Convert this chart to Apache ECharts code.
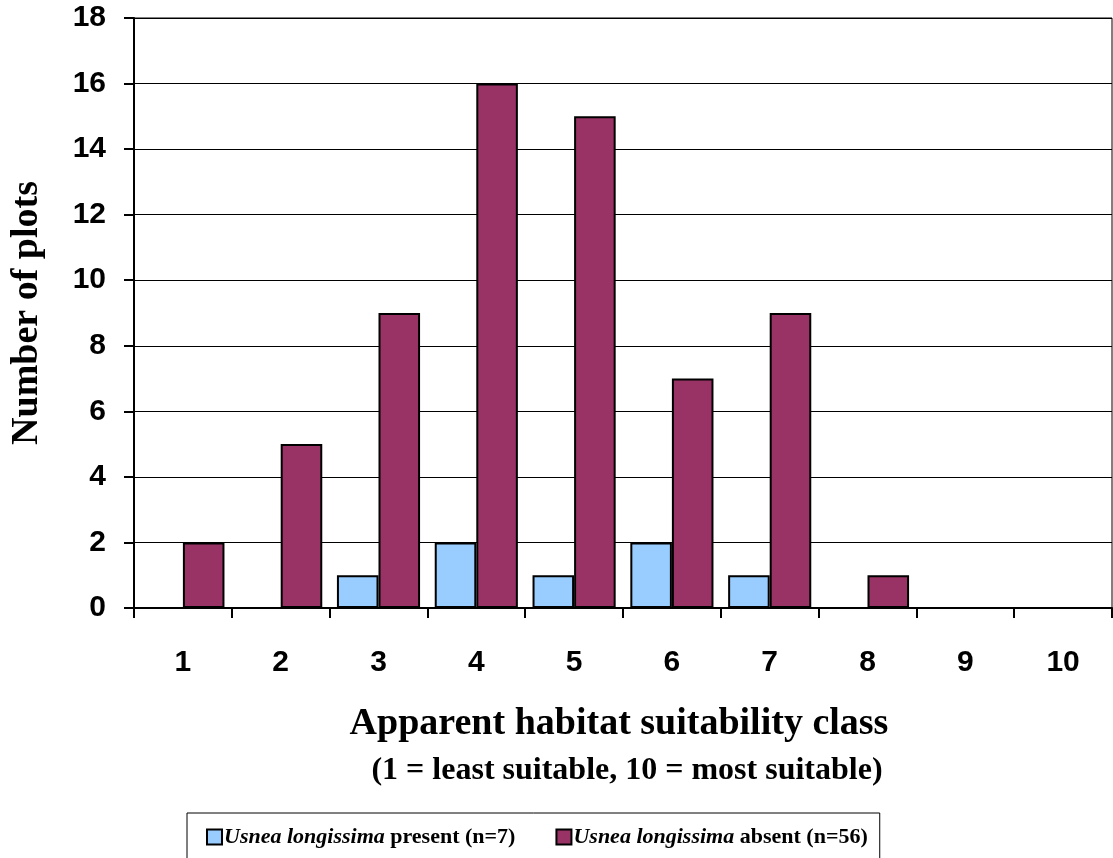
<!DOCTYPE html>
<html>
<head>
<meta charset="utf-8">
<script src="https://cdn.jsdelivr.net/npm/echarts@6/dist/echarts.min.js"></script>
<style>
  html, body { margin: 0; padding: 0; background: #fff; }
  #chart { width: 1113px; height: 858px; }
</style>
</head>
<body>
<div id="chart"></div>
<script>
// Habitat suitability classes and plot counts
const classes = ['1', '2', '3', '4', '5', '6', '7', '8', '9', '10'];
const presentCounts = [0, 0, 1, 2, 1, 2, 1, 0, 0, 0];
const absentCounts = [2, 5, 9, 16, 15, 7, 9, 1, 0, 0];
const yTicks = { min: 0, max: 18, step: 2 };

const chart = echarts.init(document.getElementById('chart'));

const serif = '"Liberation Serif", "Times New Roman", serif';
const sans = '"Liberation Sans", Arial, sans-serif';

const legendRich = {
  i: { fontFamily: serif, fontStyle: 'italic', fontWeight: 'bold', fontSize: 22, color: '#000' },
  b: { fontFamily: serif, fontWeight: 'bold', fontSize: 22, color: '#000' }
};

chart.setOption({
  animation: false,
  backgroundColor: '#fff',
  grid: {
    left: 131, right: 1, top: 18, bottom: 250,
    show: true, borderColor: '#000', borderWidth: 1, backgroundColor: 'transparent'
  },
  legend: {
    left: 187, top: 813,
    padding: [13, 12, 20, 19],
    itemGap: 40,
    itemWidth: 15, itemHeight: 15,
    borderColor: '#000', borderWidth: 1,
    icon: 'rect',
    formatter: function (name) {
      const parts = name.split('|');
      return '{i|' + parts[0] + '}{b| ' + parts[1] + '}';
    },
    textStyle: { rich: legendRich, padding: [0, 0, 0, -3] },
    data: ['Usnea longissima|present (n=7)', 'Usnea longissima|absent (n=56)']
  },
  xAxis: {
    type: 'category',
    data: classes,
    axisLine: { lineStyle: { color: '#000', width: 2 } },
    axisTick: { show: true, length: 10, lineStyle: { color: '#000', width: 2 } },
    axisLabel: { margin: 40, fontFamily: sans, fontWeight: 'bold', fontSize: 30, color: '#000' }
  },
  yAxis: {
    type: 'value',
    min: yTicks.min, max: yTicks.max, interval: yTicks.step,
    name: 'Number of plots',
    nameLocation: 'middle',
    nameRotate: 90,
    nameGap: 88,
    nameTextStyle: { fontFamily: serif, fontWeight: 'bold', fontSize: 38, color: '#000' },
    axisLine: { show: true, lineStyle: { color: '#000', width: 2 } },
    axisTick: { show: true, length: 10, lineStyle: { color: '#000', width: 2 } },
    axisLabel: { margin: 28, fontFamily: sans, fontWeight: 'bold', fontSize: 30, color: '#000' },
    splitLine: { show: true, lineStyle: { color: '#000', width: 1 } }
  },
  series: [
    {
      name: 'Usnea longissima|present (n=7)',
      type: 'bar',
      data: presentCounts,
      barGap: '0%',
      barCategoryGap: '15%',
      itemStyle: { color: '#99CCFF', borderColor: '#000', borderWidth: 2 }
    },
    {
      name: 'Usnea longissima|absent (n=56)',
      type: 'bar',
      data: absentCounts,
      itemStyle: { color: '#993366', borderColor: '#000', borderWidth: 2 }
    }
  ],
  graphic: [
    {
      type: 'text', x: 619, y: 705,
      style: {
        text: 'Apparent habitat suitability class',
        font: 'bold 38px ' + serif, fill: '#000',
        textAlign: 'center', textVerticalAlign: 'top'
      }
    },
    {
      type: 'text', x: 627, y: 755,
      style: {
        text: '(1 = least suitable, 10 = most suitable)',
        font: 'bold 32px ' + serif, fill: '#000',
        textAlign: 'center', textVerticalAlign: 'top'
      }
    }
  ]
});
</script>
</body>
</html>
